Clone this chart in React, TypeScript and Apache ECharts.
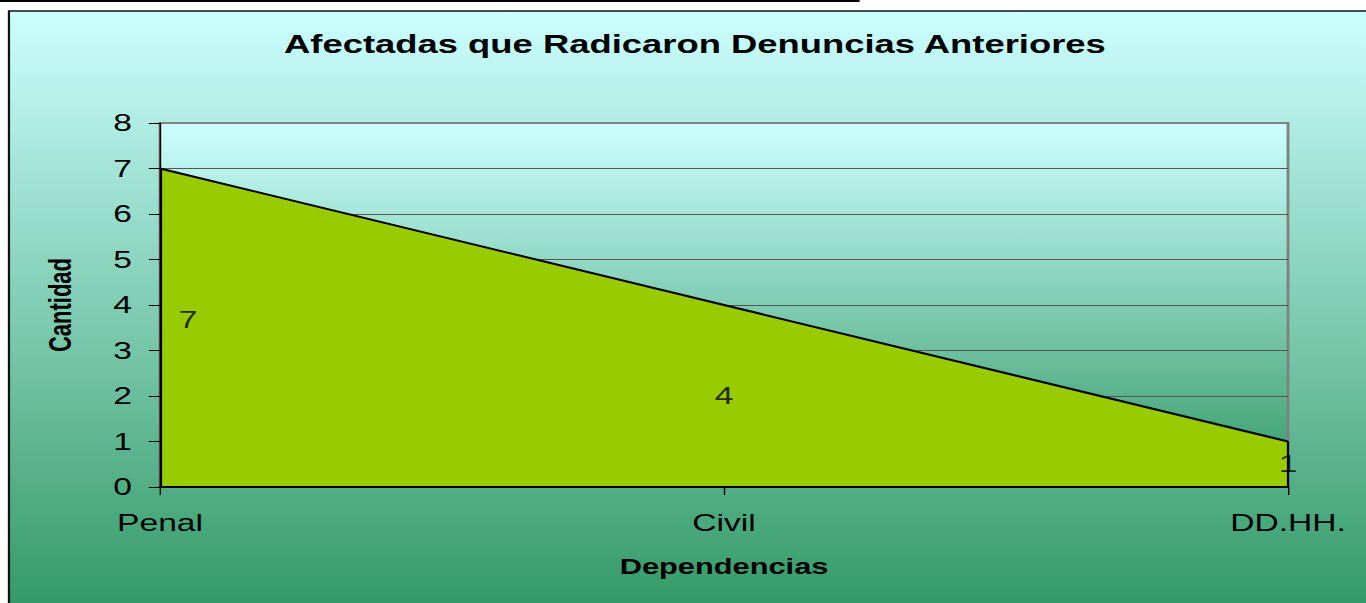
import React, { useEffect, useRef } from "react";
import * as echarts from "echarts";

const chartTitle = "Afectadas que Radicaron Denuncias Anteriores";
const xAxisName = "Dependencias";
const yAxisName = "Cantidad";
const categories = ["Penal", "Civil", "DD.HH."];
const values = [7, 4, 1];
const yMin = 0;
const yMax = 8;
const yInterval = 1;

// the reference picture is stretched horizontally
const SX = 1.4;
const W = 976;
const H = 603;

export default function App() {
  const ref = useRef<HTMLDivElement>(null);

  useEffect(() => {
    document.body.style.margin = "0";
    const chart = echarts.init(ref.current!, null, { renderer: "svg" });
    const font = "'Liberation Sans', Arial, sans-serif";
    const splitColors: string[] = [];
    for (let v = yMin; v <= yMax; v += yInterval) splitColors.push(v === yMax ? "#808080" : "#555555");

    chart.setOption({
      animation: false,
      textStyle: { fontFamily: font },
      graphic: [
        {
          type: "rect",
          z: -10,
          silent: true,
          shape: { x: 6.4, y: 11, width: 1100, height: 600 },
          style: {
            fill: new echarts.graphic.LinearGradient(0, 0, 0, 1, [
              { offset: 0, color: "#CCFFFF" },
              { offset: 1, color: "#339966" },
            ]),
            stroke: "#111",
            lineWidth: 1.6,
          },
        },
        {
          type: "rect",
          z: -10,
          silent: true,
          shape: { x: 0, y: 0, width: 614, height: 2 },
          style: { fill: "#000" },
        },
      ],
      title: {
        text: chartTitle,
        left: 496.4,
        top: 31,
        textAlign: "center",
        padding: 0,
        textStyle: { fontSize: 26, fontWeight: "bold", color: "#000", fontFamily: font },
      },
      grid: {
        left: 114.3,
        right: W - 920,
        top: 123,
        bottom: H - 487,
        show: true,
        backgroundColor: new echarts.graphic.LinearGradient(0, 0, 0, 1, [
          { offset: 0, color: "#CCFFFF" },
          { offset: 1, color: "#339966" },
        ]),
        borderColor: "#808080",
        borderWidth: 2,
      },
      xAxis: {
        type: "category",
        data: categories,
        boundaryGap: false,
        z: 3,
        axisLine: { show: true, lineStyle: { color: "#000", width: 2 } },
        axisTick: { show: true, length: 8, lineStyle: { color: "#000", width: 1 } },
        axisLabel: { fontSize: 24, color: "#000", margin: 24, fontFamily: font },
        splitLine: { show: false },
        name: xAxisName,
        nameLocation: "middle",
        nameGap: 69,
        nameTextStyle: { fontSize: 22, fontWeight: "bold", color: "#000", fontFamily: font },
      },
      yAxis: {
        type: "value",
        min: yMin,
        max: yMax,
        interval: yInterval,
        axisLine: { show: true, lineStyle: { color: "#000", width: 1 } },
        axisTick: { show: true, length: 8, lineStyle: { color: "#000", width: 1 } },
        axisLabel: { fontSize: 24, color: "#000", margin: 20, fontFamily: font },
        splitLine: { show: true, lineStyle: { color: splitColors, width: 1 } },
        name: yAxisName,
        nameLocation: "middle",
        nameGap: 60,
        nameRotate: 90,
        nameTextStyle: { fontSize: 22, fontWeight: "bold", color: "#000", fontFamily: font },
      },
      series: [
        {
          type: "line",
          data: values,
          symbol: "none",
          z: 2,
          lineStyle: { color: "#000", width: 2 },
          areaStyle: { color: "#99CC00", opacity: 1 },
          markLine: {
            silent: true,
            symbol: ["none", "none"],
            label: { show: false },
            lineStyle: { color: "#000", width: 1.6, type: "solid" },
            data: [
              [{ coord: [categories[0], 0] }, { coord: [categories[0], values[0]] }],
              [
                { coord: [categories[categories.length - 1], 0] },
                { coord: [categories[categories.length - 1], values[values.length - 1]] },
              ],
            ],
          },
        },
        {
          type: "scatter",
          z: 4,
          symbolSize: 0,
          silent: true,
          data: values.map((v, i) => ({
            value: [i, v / 2],
            label: i === 0 ? { offset: [20, -8] } : undefined,
          })),
          label: {
            show: true,
            position: "inside",
            fontSize: 24,
            color: "#000",
            fontFamily: font,
            formatter: (p: any) => String(values[p.dataIndex]),
          },
        },
      ],
    });

    return () => chart.dispose();
  }, []);

  return (
    <div style={{ width: 1366, height: 603, overflow: "hidden", position: "relative", background: "#fff" }}>
      <div
        ref={ref}
        style={{ width: W, height: H, transform: `scaleX(${SX})`, transformOrigin: "0 0" }}
      />
    </div>
  );
}
